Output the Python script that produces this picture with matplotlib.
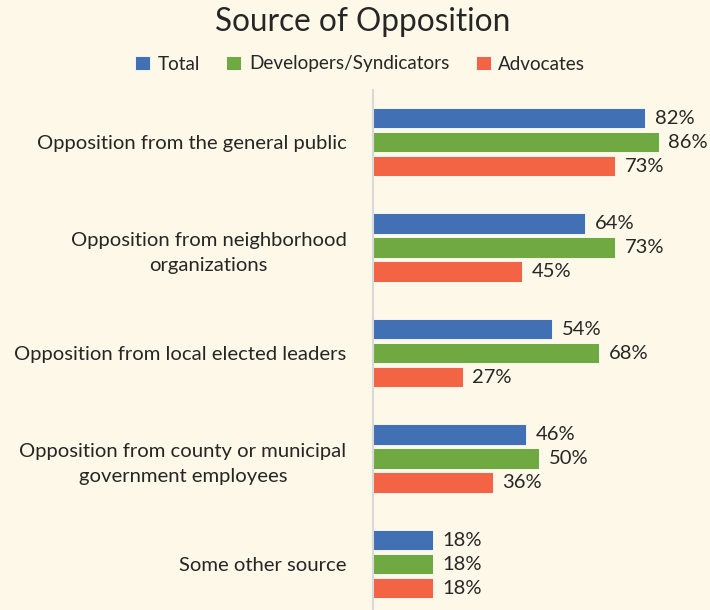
import matplotlib.pyplot as plt
import numpy as np

categories = ["Opposition from the general public",
              "Opposition from neighborhood\norganizations",
              "Opposition from local elected leaders",
              "Opposition from county or municipal\ngovernment employees",
              "Some other source"]
total = [82, 64, 54, 46, 18]
developers = [86, 73, 68, 50, 18]
advocates = [73, 45, 27, 36, 18]
series_names = ["Total", "Developers/Syndicators", "Advocates"]

bg = "#fef8e8"
colors = ["#4270b5", "#70a941", "#f26444"]

plt.rcParams['font.family'] = ['Lato', 'DejaVu Sans']

fig = plt.figure(figsize=(7.1, 6.1), dpi=100, facecolor=bg)
ax = fig.add_axes([373 / 710, 0, 337 / 710, 520 / 610])
ax.set_facecolor(bg)

y = np.arange(len(categories))
h = 0.19
off = 0.2275
for i, vals in enumerate([total, developers, advocates]):
    pos = y + (i - 1) * off
    bars = ax.barh(pos, vals, height=h, color=colors[i], label=series_names[i],
                   edgecolor="white", linewidth=0.6)
    for b, v in zip(bars, vals):
        ax.text(v + 2.9, b.get_y() + b.get_height() / 2, f"{v}%",
                va="center", ha="left", fontsize=14.5, color="#262626")

ax.set_xlim(0, 101.5)
ax.set_ylim(4 + 0.436, -0.493)
ax.set_yticks(y)
ax.set_yticklabels(categories, fontsize=14.6, color="#262626",
                   multialignment="center", linespacing=1.55)
ax.tick_params(axis="y", length=0, pad=19)
ax.set_xticks([])
for s in ["top", "right", "bottom"]:
    ax.spines[s].set_visible(False)
ax.spines["left"].set_color("#d9d9d9")
ax.spines["left"].set_linewidth(1.5)

fig.text(363 / 710, 1 - 22 / 610, "Source of Opposition", ha="center", va="center",
         fontsize=22.7, color="#262626")
handles, labels = ax.get_legend_handles_labels()
fig.legend(handles, labels, loc="center", bbox_to_anchor=(360 / 710, 1 - 64 / 610),
           ncol=3, frameon=False, fontsize=13.6, handlelength=0.8, handleheight=0.8,
           handletextpad=0.4, columnspacing=1.4, labelcolor="#262626")

fig.savefig("out.png", dpi=100, facecolor=bg)
